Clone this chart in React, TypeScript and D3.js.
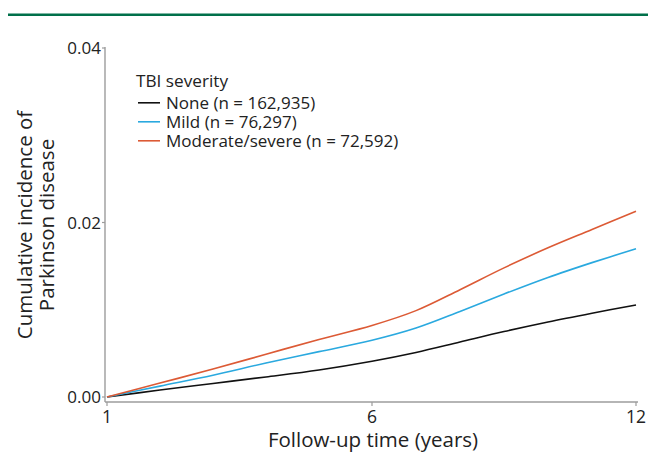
import React from "react";
import * as d3 from "d3";

const years = [1, 2, 3, 4, 5, 6, 7, 8, 9, 10, 11, 12];
const noneValues = [0, 0.0008, 0.00155, 0.0023, 0.0031, 0.0041, 0.0051, 0.0063, 0.0075, 0.0086, 0.0096, 0.01055];
const mildValues = [0, 0.00125, 0.0025, 0.0039, 0.0052, 0.0065, 0.0079, 0.0098, 0.0118, 0.0137, 0.0154, 0.0170];
const modSevValues = [0, 0.0016, 0.0032, 0.0049, 0.0066, 0.0082, 0.0099, 0.0123, 0.0148, 0.0171, 0.0192, 0.0213];
const seriesNames = ["None (n = 162,935)", "Mild (n = 76,297)", "Moderate/severe (n = 72,592)"];
const seriesColors = ["#111111", "#2aa9df", "#dc5a35"];
const xTicks = [1, 6, 12];
const yTicks = [0, 0.02, 0.04];
const yTickLabels = ["0.00", "0.02", "0.04"];

const FONT = "'Open Sans', 'Noto Sans', sans-serif";

export default function App() {
  const W = 648, H = 453;
  const x = d3.scaleLinear().domain([1, 6, 12]).range([107, 372, 636]);
  const y = d3.scaleLinear().domain([0, 0.04]).range([397, 48]);
  const line = d3
    .line<number>()
    .x((_, i) => x(years[i]))
    .y((d) => y(d))
    .curve(d3.curveCatmullRom.alpha(0.5));
  const series = [noneValues, mildValues, modSevValues];
  const axisColor = "#9c9c9c";
  const axisX = 105;
  const axisY = 402;

  return (
    <svg
      width={W}
      height={H}
      style={{ position: "absolute", left: 0, top: 0, background: "#fff" }}
      fontFamily={FONT}
    >
      <rect x={0} y={0} width={W} height={H} fill="#fff" />
      <line x1={8} x2={648} y1={14.8} y2={14.8} stroke="#00704a" strokeWidth={2.4} />

      {/* axes */}
      <line x1={axisX} x2={axisX} y1={47} y2={axisY} stroke={axisColor} strokeWidth={1.4} />
      <line x1={axisX} x2={638} y1={axisY} y2={axisY} stroke={axisColor} strokeWidth={1.4} />
      {yTicks.map((t, i) => (
        <g key={"y" + i}>
          <line x1={axisX - 3} x2={axisX} y1={y(t)} y2={y(t)} stroke={axisColor} strokeWidth={1.2} />
          <text x={axisX - 4} y={y(t) + 6} textAnchor="end" fontSize={17} fill="#222">
            {yTickLabels[i]}
          </text>
        </g>
      ))}
      {xTicks.map((t) => (
        <g key={"x" + t}>
          <line x1={x(t)} x2={x(t)} y1={axisY} y2={axisY + 4} stroke={axisColor} strokeWidth={1.2} />
          <text x={x(t)} y={423} textAnchor="middle" fontSize={17.5} fill="#222">
            {t}
          </text>
        </g>
      ))}
      <text x={373} y={446.5} textAnchor="middle" fontSize={20.5} fill="#222">
        Follow-up time (years)
      </text>
      <g transform="translate(32,225) rotate(-90)">
        <text x={0} y={0} textAnchor="middle" fontSize={20.5} fill="#222">
          Cumulative incidence of
        </text>
        <text x={0} y={22} textAnchor="middle" fontSize={20.5} fill="#222">
          Parkinson disease
        </text>
      </g>

      {/* lines */}
      {series.map((s, i) => (
        <path key={"s" + i} d={line(s) || ""} fill="none" stroke={seriesColors[i]} strokeWidth={1.6} />
      ))}

      {/* legend */}
      <text x={136} y={87} fontSize={17.2} fill="#222">
        TBI severity
      </text>
      {seriesNames.map((n, i) => (
        <g key={"l" + i}>
          <line x1={138} x2={160} y1={102.8 + i * 19} y2={102.8 + i * 19} stroke={seriesColors[i]} strokeWidth={1.6} />
          <text x={166} y={108.5 + i * 19} fontSize={17} fill="#222">
            {n}
          </text>
        </g>
      ))}
    </svg>
  );
}
